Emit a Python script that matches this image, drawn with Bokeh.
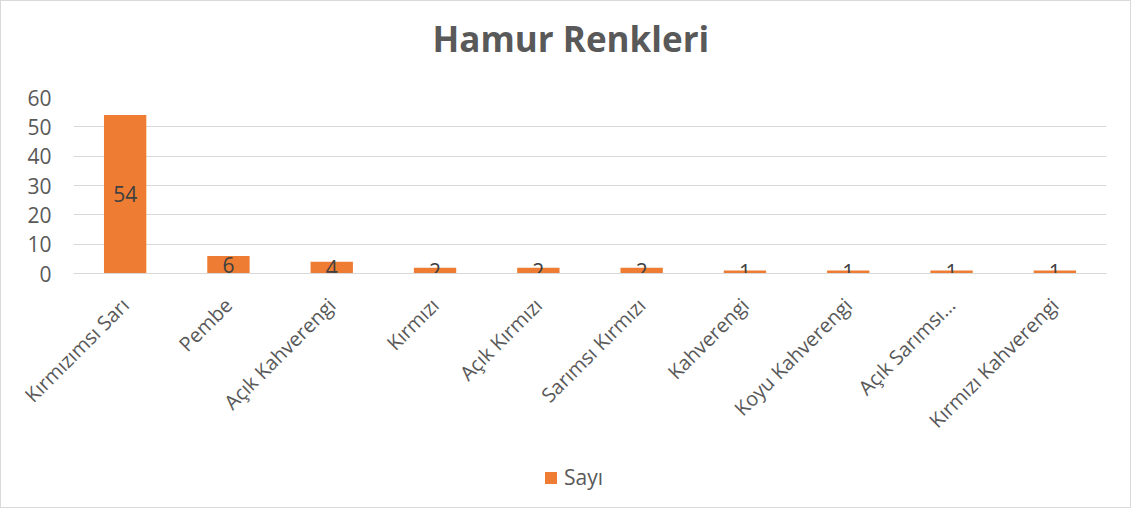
import math
from bokeh.plotting import figure
from bokeh.layouts import column
from bokeh.models import ColumnDataSource, Legend, LegendItem, FixedTicker
from bokeh.core.properties import value
from bokeh.embed import file_html
from bokeh.resources import INLINE

categories = ["Kırmızımsı Sarı", "Pembe", "Açık Kahverengi", "Kırmızı", "Açık Kırmızı",
              "Sarımsı Kırmızı", "Kahverengi", "Koyu Kahverengi", "Açık Sarımsı…", "Kırmızı Kahverengi"]
counts = [54, 6, 4, 2, 2, 2, 1, 1, 1, 1]
y_ticks = [0, 10, 20, 30, 40, 50, 60]
series_name = "Sayı"
chart_title = "Hamur Renkleri"

src = ColumnDataSource(dict(cat=categories, val=counts,
                            mid=[v / 2 for v in counts],
                            lab=[str(v) for v in counts]))

FONT = "Open Sans"
GREY = "#595959"
ORANGE = "#EE7D33"
W = 1129

# title strip
tf = figure(width=W, height=75, x_range=(0, 1), y_range=(0, 1),
            output_backend="svg", toolbar_location=None,
            min_border_left=0, min_border_right=0, min_border_top=0, min_border_bottom=0)
tf.axis.visible = False
tf.grid.visible = False
tf.outline_line_color = None
tf.title.text = chart_title
tf.title.align = "left"
tf.title.text_font = FONT
tf.title.text_font_size = "35px"
tf.title.text_font_style = "bold"
tf.title.text_color = GREY
tf.title.offset = 359
tf.title.standoff = 22

# main chart
p = figure(x_range=categories, y_range=(0, 60), width=W, height=375,
           output_backend="svg", toolbar_location=None,
           min_border_left=72, min_border_right=24, min_border_top=21, min_border_bottom=178)

r = p.vbar(x="cat", top="val", width=0.41, source=src, fill_color=ORANGE, line_color=None)
p.text(x="cat", y="mid", text="lab", source=src, text_align="center", text_baseline="middle",
       text_font=value(FONT), text_font_size="21px", text_color="#404040")

p.outline_line_color = None
p.xgrid.grid_line_color = None
p.ygrid.grid_line_color = "#D9D9D9"
p.ygrid.grid_line_width = 1

p.yaxis.ticker = FixedTicker(ticks=y_ticks)
p.yaxis.axis_line_color = None
p.yaxis.major_tick_line_color = None
p.yaxis.minor_tick_line_color = None
p.yaxis.major_label_text_font = FONT
p.yaxis.major_label_text_font_size = "21px"
p.yaxis.major_label_text_color = GREY
p.yaxis.major_label_standoff = 16

p.xaxis.axis_line_color = "#D9D9D9"
p.xaxis.major_tick_line_color = None
p.xaxis.minor_tick_line_color = None
p.xaxis.major_label_orientation = math.pi / 4
p.xaxis.major_label_text_font = FONT
p.xaxis.major_label_text_font_size = "20px"
p.xaxis.major_label_text_color = GREY
p.xaxis.major_label_standoff = 22

# legend strip below the chart
lf = figure(width=W, height=56, x_range=(0, 1), y_range=(0, 1),
            output_backend="svg", toolbar_location=None,
            min_border_left=0, min_border_right=0, min_border_top=0, min_border_bottom=0)
lf.axis.visible = False
lf.grid.visible = False
lf.outline_line_color = None
lr = lf.vbar(x=[0.5], top=[0], bottom=[0], width=0.01, fill_color=ORANGE, line_color=None)
legend = Legend(items=[LegendItem(label=series_name, renderers=[lr])], orientation="horizontal",
                location=(470, 16), label_text_font=FONT, label_text_font_size="21px",
                label_text_color=GREY, glyph_width=15, glyph_height=15, border_line_color=None,
                background_fill_alpha=0, margin=0, padding=0, spacing=4, label_standoff=6)
lf.add_layout(legend, "center")

layout = column(tf, p, lf, spacing=0)
layout.styles = {"border": "1px solid #D9D9D9"}

open("out.html", "w").write(file_html(layout, INLINE))
